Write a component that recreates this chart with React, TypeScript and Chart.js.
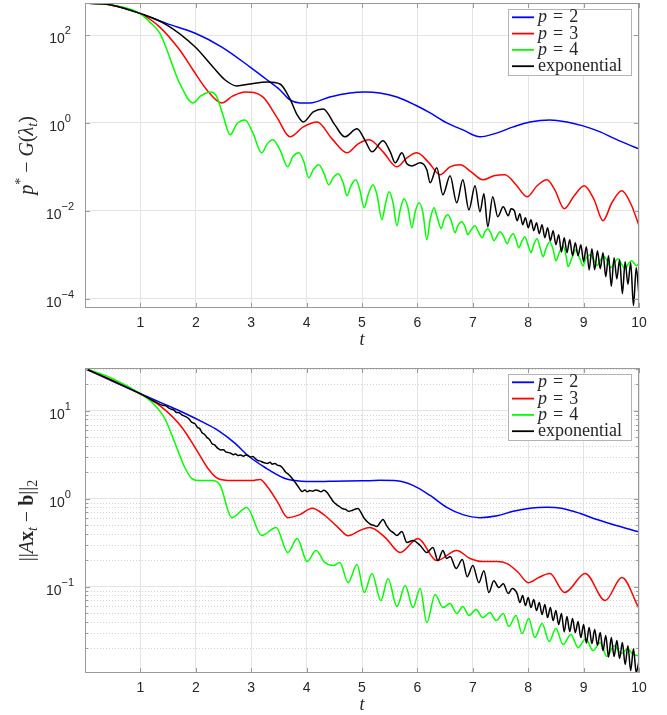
import React, { useEffect, useRef } from "react";
import { Chart, registerables } from "chart.js";

Chart.register(...registerables);

type Pt = [number, number];

// ---------------- shared ----------------
const SERIES_LABELS = ["p = 2", "p = 3", "p = 4", "exponential"];
const SERIES_COLORS = ["#0000ff", "#ff0000", "#00ff00", "#000000"];
const X_TICKS = [1, 2, 3, 4, 5, 6, 7, 8, 9, 10];

// ---------------- top panel: p* - G(lambda_t) ----------------
const TOP_Y_TICKS = [1e2, 1e0, 1e-2, 1e-4];
const TOP_Y_RANGE = [6.1e-5, 537];

const TOP_P2: Pt[] = [
  [0, 534], [0.49, 480], [0.99, 312], [1.48, 182], [1.99, 110], [2.47, 53.4], [2.98, 18.7],
  [3.29, 9.49], [3.52, 5.62], [3.7, 3.33], [3.88, 2.85], [4.06, 2.85], [4.42, 3.9], [4.78, 4.81],
  [5.05, 5.06], [5.32, 4.81], [5.63, 3.9], [5.96, 2.56], [6.23, 1.69], [6.53, 1.0], [6.82, 0.693],
  [7.13, 0.481], [7.44, 0.593], [7.73, 0.811], [8.03, 1.05], [8.39, 1.17], [8.7, 1.05],
  [8.99, 0.855], [9.3, 0.624], [9.53, 0.456], [9.78, 0.333], [10, 0.256],
];

const TOP_P3: Pt[] = [
  [0, 534], [0.49, 480], [0.99, 312], [1.35, 152], [1.71, 45.6], [1.95, 16.0], [2.2, 5.62],
  [2.47, 2.85], [2.67, 4.11], [2.89, 5.06], [3.21, 3.9], [3.47, 1.3], [3.7, 0.481], [3.94, 0.811],
  [4.19, 1.05], [4.46, 0.433], [4.73, 0.208], [4.93, 0.333], [5.13, 0.411], [5.38, 0.219],
  [5.63, 0.1], [5.81, 0.16], [5.99, 0.208], [6.21, 0.123], [6.41, 0.0658], [6.59, 0.1],
  [6.77, 0.111], [6.97, 0.077], [7.18, 0.0506], [7.38, 0.0624], [7.58, 0.0658], [7.78, 0.039],
  [7.98, 0.0208], [8.16, 0.037], [8.34, 0.0506], [8.48, 0.03], [8.65, 0.0111], [8.83, 0.0219],
  [9.01, 0.037], [9.19, 0.0178], [9.35, 0.00593], [9.51, 0.0152], [9.69, 0.0285], [9.86, 0.0137],
  [10, 0.00456],
];

const TOP_P4: Pt[] = [
  [0, 534], [0.49, 480], [0.99, 312], [1.17, 197], [1.35, 111], [1.48, 45.6], [1.59, 18.7],
  [1.68, 9.49], [1.77, 5.62], [1.86, 3.51], [1.95, 2.85], [2.09, 4.11], [2.26, 5.06], [2.37, 4.11],
  [2.49, 1.52], [2.62, 0.534], [2.74, 0.949], [2.89, 1.17], [3.03, 0.593], [3.19, 0.208],
  [3.29, 0.333], [3.39, 0.411], [3.52, 0.243], [3.66, 0.1], [3.75, 0.169], [3.86, 0.208],
  [3.95, 0.13], [4.04, 0.0562], [4.12, 0.0855], [4.22, 0.111], [4.31, 0.0731], [4.4, 0.039],
  [4.48, 0.0562], [4.57, 0.0693], [4.66, 0.0433], [4.73, 0.0219], [4.8, 0.037], [4.89, 0.0506],
  [4.96, 0.03], [5.04, 0.0117], [5.11, 0.0231], [5.2, 0.039], [5.27, 0.0231], [5.36, 0.00624],
  [5.42, 0.0137], [5.49, 0.027], [5.56, 0.0152], [5.63, 0.00456], [5.69, 0.0105], [5.76, 0.0187],
  [5.83, 0.0117], [5.9, 0.00411], [5.96, 0.00949], [6.03, 0.0152], [6.1, 0.00901], [6.17, 0.00219],
  [6.23, 0.00624], [6.3, 0.0117], [6.35, 0.0077], [6.43, 0.0039], [6.48, 0.00624], [6.55, 0.00811],
  [6.61, 0.00593], [6.68, 0.00316], [6.73, 0.00456], [6.8, 0.00562], [6.86, 0.00433], [6.91, 0.00285],
  [6.97, 0.0037], [7.04, 0.00456], [7.09, 0.00351], [7.17, 0.00243], [7.22, 0.00333], [7.27, 0.0039],
  [7.33, 0.003], [7.38, 0.00208], [7.44, 0.0027], [7.49, 0.00333], [7.55, 0.0027], [7.62, 0.00178],
  [7.67, 0.00243], [7.73, 0.003], [7.78, 0.00219], [7.83, 0.00144], [7.89, 0.00208], [7.94, 0.00256],
  [7.99, 0.00178], [8.05, 0.00111], [8.1, 0.00169], [8.16, 0.00231], [8.21, 0.00152], [8.27, 0.000901],
  [8.32, 0.00137], [8.39, 0.00197], [8.45, 0.0013], [8.5, 0.000731], [8.56, 0.00111], [8.63, 0.0016],
  [8.68, 0.001], [8.72, 0.000534], [8.79, 0.000855], [8.86, 0.0013], [8.92, 0.000901], [8.99, 0.000562],
  [9.04, 0.000811], [9.12, 0.001], [9.19, 0.000731], [9.24, 0.000562], [9.31, 0.00077], [9.37, 0.000901],
  [9.44, 0.000658], [9.49, 0.000506], [9.57, 0.000693], [9.62, 0.000811], [9.69, 0.000593],
  [9.75, 0.000481], [9.82, 0.000658], [9.87, 0.000731], [9.95, 0.000562], [10, 0.000624],
];

const TOP_EXP: Pt[] = [
  [0, 534], [0.49, 480], [0.99, 312], [1.48, 169], [1.99, 53.4], [2.31, 18.7], [2.53, 9.49],
  [2.74, 6.93], [2.98, 7.7], [3.29, 8.55], [3.52, 7.7], [3.7, 3.51], [3.83, 1.52], [3.94, 1.05],
  [4.12, 1.78], [4.3, 2.08], [4.51, 0.901], [4.69, 0.481], [4.91, 0.731], [5.05, 0.411],
  [5.18, 0.219], [5.38, 0.39], [5.51, 0.219], [5.6, 0.123], [5.72, 0.208], [5.81, 0.117],
  [5.9, 0.105], [6.05, 0.123], [6.17, 0.0855], [6.23, 0.0433], [6.35, 0.0949], [6.46, 0.0231],
  [6.59, 0.0624], [6.71, 0.0152], [6.82, 0.0506], [6.93, 0.0105], [7.04, 0.037], [7.13, 0.00949],
  [7.2, 0.0243], [7.27, 0.00433], [7.36, 0.0208], [7.45, 0.00731], [7.55, 0.0123], [7.64, 0.0077],
  [7.69, 0.0111], [7.75, 0.01], [7.8, 0.00593], [7.85, 0.00855], [7.9, 0.00481], [7.95, 0.00693],
  [8.0, 0.00411], [8.05, 0.00624], [8.1, 0.00351], [8.15, 0.00534], [8.2, 0.003], [8.25, 0.00481],
  [8.3, 0.00243], [8.35, 0.00411], [8.4, 0.00208], [8.45, 0.00351], [8.5, 0.00169], [8.55, 0.00285],
  [8.6, 0.00115], [8.65, 0.00243], [8.7, 0.00111], [8.75, 0.00219], [8.8, 0.000949], [8.85, 0.00187],
  [8.9, 0.00095], [8.95, 0.00169], [9.0, 0.000693], [9.05, 0.00152], [9.1, 0.00045], [9.15, 0.00137],
  [9.2, 0.000456], [9.25, 0.00123], [9.3, 0.00048], [9.35, 0.00111], [9.4, 0.000316], [9.45, 0.000949],
  [9.5, 0.00019], [9.55, 0.000855], [9.6, 0.00028], [9.65, 0.00077], [9.7, 0.00013], [9.75, 0.000693],
  [9.8, 0.00021], [9.85, 0.000658], [9.9, 0.0000693], [9.95, 0.000506], [10, 0.000117],
];

// ---------------- bottom panel: ||A x_t - b||_2 ----------------
const BOT_Y_TICKS = [1e1, 1e0, 1e-1];
const BOT_Y_MINOR = [
  0.02, 0.03, 0.04, 0.05, 0.06, 0.07, 0.08, 0.09,
  0.2, 0.3, 0.4, 0.5, 0.6, 0.7, 0.8, 0.9,
  2, 3, 4, 5, 6, 7, 8, 9, 20, 30,
];
const BOT_Y_RANGE = [0.0104, 30.8];

const BOT_P2: Pt[] = [
  [0, 30.3], [0.5, 21.7], [0.99, 15.8], [1.4, 12.2], [1.81, 9.36], [2.1, 7.6], [2.4, 6.0],
  [2.71, 4.27], [2.94, 3.11], [3.25, 2.27], [3.61, 1.7], [3.79, 1.61], [4.0, 1.57], [4.42, 1.58],
  [5.0, 1.6], [5.32, 1.62], [5.63, 1.6], [5.92, 1.42], [6.23, 1.09], [6.53, 0.8], [6.82, 0.66],
  [7.13, 0.61], [7.44, 0.64], [7.73, 0.72], [8.03, 0.78], [8.34, 0.8], [8.6, 0.78], [8.94, 0.68],
  [9.24, 0.58], [9.53, 0.51], [10, 0.42],
];

const BOT_P3: Pt[] = [
  [0, 30.3], [0.49, 22.2], [0.99, 15.8], [1.39, 10.96], [1.75, 6.49], [2.04, 3.37], [2.22, 2.21],
  [2.4, 1.7], [2.65, 1.61], [3.01, 1.61], [3.16, 1.66], [3.3, 1.35], [3.48, 0.91], [3.66, 0.61],
  [3.88, 0.66], [4.1, 0.78], [4.33, 0.645], [4.57, 0.47], [4.75, 0.38], [4.96, 0.435], [5.14, 0.47],
  [5.42, 0.362], [5.69, 0.244], [6.01, 0.353], [6.35, 0.198], [6.71, 0.258], [6.95, 0.209],
  [7.18, 0.193], [7.44, 0.193], [7.62, 0.183], [7.82, 0.145], [8.0, 0.111], [8.2, 0.128],
  [8.39, 0.141], [8.66, 0.0857], [9.03, 0.141], [9.39, 0.0695], [9.69, 0.127], [10, 0.0563],
];

const BOT_P4: Pt[] = [
  [0, 30.5], [0.49, 23.4], [0.99, 15.8], [1.21, 12.5], [1.44, 8.2], [1.62, 4.38], [1.81, 2.21],
  [1.93, 1.7], [2.08, 1.61], [2.29, 1.61], [2.44, 1.42], [2.65, 0.61], [2.92, 0.796], [3.19, 0.382],
  [3.45, 0.471], [3.66, 0.244], [3.83, 0.353], [4.01, 0.193], [4.17, 0.258], [4.33, 0.188],
  [4.48, 0.174], [4.6, 0.188], [4.75, 0.111], [4.91, 0.179], [5.04, 0.0857], [5.18, 0.141],
  [5.34, 0.0695], [5.47, 0.124], [5.63, 0.0593], [5.78, 0.103], [5.92, 0.0578], [6.05, 0.0951],
  [6.17, 0.039], [6.32, 0.0813], [6.46, 0.0578], [6.59, 0.0642], [6.71, 0.0494], [6.82, 0.0593],
  [6.93, 0.0469], [7.06, 0.0548], [7.18, 0.0445], [7.31, 0.0507], [7.42, 0.0411], [7.55, 0.0494],
  [7.65, 0.0351], [7.78, 0.0469], [7.89, 0.0292], [8.01, 0.0433], [8.12, 0.0263], [8.25, 0.038],
  [8.38, 0.0237], [8.5, 0.0333], [8.63, 0.0219], [8.77, 0.0285], [8.9, 0.0202], [9.04, 0.0256],
  [9.17, 0.0187], [9.3, 0.0231], [9.42, 0.016], [9.55, 0.0213], [9.68, 0.0173], [9.8, 0.0197],
  [9.89, 0.0169], [10, 0.0164],
];

const BOT_EXP: Pt[] = [
  [0, 30.5], [0.49, 22.2], [0.99, 15.8], [1.32, 12.2], [1.4, 11.6], [1.45, 11.5], [1.53, 10.6],
  [1.6, 10.3], [1.65, 9.6], [1.7, 9.55], [1.75, 9.0], [1.82, 8.6], [1.87, 8.2], [1.93, 7.4],
  [1.98, 7.2], [2.03, 6.5], [2.07, 6.3], [2.11, 5.69], [2.16, 5.4], [2.2, 5.0], [2.25, 4.7],
  [2.29, 4.27], [2.34, 4.1], [2.4, 3.74], [2.45, 3.6], [2.5, 3.62], [2.54, 3.42], [2.58, 3.37],
  [2.63, 3.3], [2.68, 3.18], [2.72, 3.24], [2.76, 3.11], [2.81, 3.16], [2.86, 3.05], [2.9, 3.14],
  [2.94, 3.11], [2.99, 2.98], [3.03, 3.02], [3.08, 2.85], [3.12, 2.73], [3.17, 2.68], [3.21, 2.6],
  [3.25, 2.56], [3.29, 2.52], [3.34, 2.6], [3.38, 2.48], [3.43, 2.52], [3.48, 2.4], [3.52, 2.38],
  [3.56, 2.27], [3.62, 2.02], [3.68, 1.88], [3.74, 1.7], [3.8, 1.52], [3.86, 1.34], [3.92, 1.21],
  [3.97, 1.26], [4.01, 1.2], [4.06, 1.24], [4.11, 1.22], [4.16, 1.26], [4.21, 1.24], [4.26, 1.2],
  [4.31, 1.25], [4.37, 1.18], [4.43, 1.04], [4.48, 0.93], [4.54, 0.86], [4.59, 0.82], [4.64, 0.775],
  [4.7, 0.76], [4.76, 0.72], [4.82, 0.736], [4.87, 0.76], [4.93, 0.775], [4.98, 0.7], [5.04, 0.6],
  [5.11, 0.537], [5.16, 0.51], [5.21, 0.5], [5.27, 0.483], [5.33, 0.54], [5.38, 0.58], [5.44, 0.5],
  [5.51, 0.435], [5.57, 0.41], [5.63, 0.382], [5.72, 0.425], [5.81, 0.318], [5.92, 0.335],
  [6.05, 0.294], [6.17, 0.244], [6.28, 0.279], [6.37, 0.198], [6.46, 0.258], [6.53, 0.209],
  [6.59, 0.22], [6.7, 0.161], [6.81, 0.204], [6.9, 0.13], [7.0, 0.174], [7.11, 0.111], [7.2, 0.152],
  [7.29, 0.0857], [7.38, 0.117], [7.47, 0.0977], [7.55, 0.108], [7.64, 0.0834], [7.71, 0.095],
  [7.8, 0.0834], [7.85, 0.0659], [7.9, 0.0792], [7.95, 0.0609], [8.0, 0.0751], [8.05, 0.0578],
  [8.1, 0.0713], [8.15, 0.0534], [8.2, 0.0659], [8.25, 0.0481], [8.3, 0.0626], [8.35, 0.0444],
  [8.4, 0.0578], [8.45, 0.0411], [8.5, 0.0534], [8.55, 0.037], [8.6, 0.0494], [8.65, 0.0305],
  [8.7, 0.0456], [8.75, 0.0308], [8.8, 0.0433], [8.85, 0.03], [8.9, 0.04], [8.95, 0.0263],
  [9.0, 0.037], [9.05, 0.0228], [9.1, 0.0342], [9.15, 0.0225], [9.2, 0.0325], [9.25, 0.0215],
  [9.3, 0.03], [9.35, 0.0187], [9.4, 0.0277], [9.45, 0.0158], [9.5, 0.0263], [9.55, 0.016],
  [9.6, 0.0243], [9.65, 0.0152], [9.7, 0.0231], [9.75, 0.013], [9.8, 0.0213], [9.85, 0.0111],
  [9.9, 0.0197], [9.95, 0.0105], [10, 0.0144],
];

// ---------------- styling ----------------
const SANS = '"Liberation Sans", Arial, Helvetica, sans-serif';
const SERIF = '"Liberation Serif", "Times New Roman", "DejaVu Serif", serif';
const TEXT = "#262626";
const AXIS = "#9a9a9a";
const GRID = "#e4e4e4";
const MINOR_GRID = "#d2d2d2";

type Seg = { text: string; font: string; dy?: number };

const TOP_Y_TITLE: Seg[] = [
  { text: "p", font: `italic 20px ${SERIF}` },
  { text: "*", font: `14px ${SERIF}`, dy: -8 },
  { text: " \u2212 ", font: `20px ${SERIF}` },
  { text: "G", font: `italic 20px ${SERIF}` },
  { text: "(", font: `20px ${SERIF}` },
  { text: "\u03bb", font: `italic 20px ${SERIF}` },
  { text: "t", font: `italic 14px ${SERIF}`, dy: 4 },
  { text: ")", font: `20px ${SERIF}` },
];

const BOT_Y_TITLE: Seg[] = [
  { text: "||", font: `20px ${SERIF}` },
  { text: "A", font: `italic 20px ${SERIF}` },
  { text: "x", font: `bold 20px ${SERIF}` },
  { text: "t", font: `italic 14px ${SERIF}`, dy: 4 },
  { text: " \u2212 ", font: `20px ${SERIF}` },
  { text: "b", font: `bold 20px ${SERIF}` },
  { text: "||", font: `20px ${SERIF}` },
  { text: "2", font: `14px ${SERIF}`, dy: 4 },
];

type PanelCfg = {
  height: number;
  padTop: number;
  xAxisH: number;
  yRange: number[];
  yTicks: number[];
  yMinor: number[];
  yTitle: Seg[];
  series: Pt[][];
};

const TOP_PANEL: PanelCfg = {
  height: 357,
  padTop: 3,
  xAxisH: 49,
  yRange: TOP_Y_RANGE,
  yTicks: TOP_Y_TICKS,
  yMinor: [],
  yTitle: TOP_Y_TITLE,
  series: [TOP_P2, TOP_P3, TOP_P4, TOP_EXP],
};

const BOT_PANEL: PanelCfg = {
  height: 358,
  padTop: 11,
  xAxisH: 42,
  yRange: BOT_Y_RANGE,
  yTicks: BOT_Y_TICKS,
  yMinor: BOT_Y_MINOR,
  yTitle: BOT_Y_TITLE,
  series: [BOT_P2, BOT_P3, BOT_P4, BOT_EXP],
};

function segsWidth(ctx: CanvasRenderingContext2D, segs: Seg[]) {
  let w = 0;
  for (const s of segs) {
    ctx.font = s.font;
    w += ctx.measureText(s.text).width;
  }
  return w;
}

function drawSegs(ctx: CanvasRenderingContext2D, segs: Seg[], x: number, y: number, align: "left" | "center") {
  ctx.textAlign = "left";
  ctx.textBaseline = "alphabetic";
  const w = segsWidth(ctx, segs);
  let cx = align === "center" ? x - w / 2 : x;
  for (const s of segs) {
    ctx.font = s.font;
    ctx.fillText(s.text, cx, y + (s.dy || 0));
    cx += ctx.measureText(s.text).width;
  }
}

function legendSegs(label: string): Seg[] {
  if (label.startsWith("p = ")) {
    return [
      { text: "p", font: `italic 18px ${SERIF}` },
      { text: "\u2004=\u2004" + label.slice(4), font: `18px ${SERIF}` },
    ];
  }
  return [{ text: label, font: `18px ${SERIF}` }];
}

function makePlugin(p: PanelCfg) {
  return {
    id: "matlabAxes",
    beforeDatasetsDraw(chart: any) {
      const { ctx, chartArea: a } = chart;
      const ys = chart.scales.y;
      if (!p.yMinor.length) return;
      ctx.save();
      ctx.strokeStyle = MINOR_GRID;
      ctx.lineWidth = 1;
      ctx.setLineDash([1, 2]);
      ctx.beginPath();
      for (const v of p.yMinor) {
        if (v < p.yRange[0] || v > p.yRange[1]) continue;
        const py = Math.round(ys.getPixelForValue(v)) + 0.5;
        ctx.moveTo(a.left, py);
        ctx.lineTo(a.right, py);
      }
      ctx.stroke();
      ctx.restore();
    },
    afterDraw(chart: any) {
      const { ctx, chartArea: a } = chart;
      const xs = chart.scales.x;
      const ys = chart.scales.y;
      ctx.save();
      ctx.setLineDash([]);
      // axes box
      ctx.strokeStyle = AXIS;
      ctx.lineWidth = 1;
      ctx.strokeRect(Math.round(a.left) + 0.5, Math.round(a.top) + 0.5, Math.round(a.right - a.left) - 1, Math.round(a.bottom - a.top) - 1);
      // inward ticks
      ctx.beginPath();
      for (const t of X_TICKS) {
        const px = Math.round(xs.getPixelForValue(t)) + 0.5;
        ctx.moveTo(px, a.bottom);
        ctx.lineTo(px, a.bottom - 5);
        ctx.moveTo(px, a.top);
        ctx.lineTo(px, a.top + 5);
      }
      for (const v of p.yTicks) {
        const py = Math.round(ys.getPixelForValue(v)) + 0.5;
        ctx.moveTo(a.left, py);
        ctx.lineTo(a.left + 5, py);
        ctx.moveTo(a.right, py);
        ctx.lineTo(a.right - 5, py);
      }
      for (const v of p.yMinor) {
        if (v < p.yRange[0] || v > p.yRange[1]) continue;
        const py = Math.round(ys.getPixelForValue(v)) + 0.5;
        ctx.moveTo(a.left, py);
        ctx.lineTo(a.left + 3, py);
        ctx.moveTo(a.right, py);
        ctx.lineTo(a.right - 3, py);
      }
      ctx.stroke();

      ctx.fillStyle = TEXT;
      // x tick labels
      ctx.font = `14px ${SANS}`;
      ctx.textAlign = "center";
      ctx.textBaseline = "alphabetic";
      for (const t of X_TICKS) {
        ctx.fillText(String(t), xs.getPixelForValue(t), a.bottom + 19);
      }
      // y tick labels 10^k
      for (const v of p.yTicks) {
        const py = ys.getPixelForValue(v);
        const e = Math.round(Math.log10(v));
        const expText = e < 0 ? "\u2212" + String(-e) : String(e);
        drawSegs(ctx, [
          { text: "10", font: `14px ${SANS}` },
          { text: expText, font: `11px ${SANS}`, dy: -9 },
        ], 60, py + 8, "center");
      }
      // x title
      drawSegs(ctx, [{ text: "t", font: `italic 18px ${SERIF}` }], (a.left + a.right) / 2, a.bottom + 37, "center");
      // y title (rotated)
      ctx.save();
      ctx.translate(33, (a.top + a.bottom) / 2);
      ctx.rotate(-Math.PI / 2);
      drawSegs(ctx, p.yTitle, 0, 0, "center");
      ctx.restore();

      // legend
      const bx1 = Math.round(a.right) - 7;
      const bx0 = bx1 - 124;
      const by0 = Math.round(a.top) + 6;
      const bh = 67;
      ctx.fillStyle = "#ffffff";
      ctx.fillRect(bx0, by0, bx1 - bx0, bh);
      ctx.strokeStyle = "#b4b4b4";
      ctx.lineWidth = 1;
      ctx.strokeRect(bx0 + 0.5, by0 + 0.5, bx1 - bx0 - 1, bh - 1);
      chart.data.datasets.forEach((ds: any, i: number) => {
        const cy = by0 + 8.3 + i * 16.3;
        ctx.strokeStyle = ds.borderColor;
        ctx.lineWidth = 1.8;
        ctx.beginPath();
        ctx.moveTo(bx0 + 4, cy);
        ctx.lineTo(bx0 + 26, cy);
        ctx.stroke();
        ctx.fillStyle = TEXT;
        drawSegs(ctx, legendSegs(ds.label), bx0 + 30, cy + 5, "left");
      });
      ctx.restore();
    },
  };
}

function buildConfig(p: PanelCfg): any {
  const datasets = p.series.map((s, i) => ({
    label: SERIES_LABELS[i],
    data: s.map(([x, y]) => ({ x, y })),
    borderColor: SERIES_COLORS[i],
    backgroundColor: SERIES_COLORS[i],
    borderWidth: 1.5,
    pointRadius: 0,
    pointHoverRadius: 0,
    fill: false,
    cubicInterpolationMode: "monotone",
    order: 4 - i,
  }));
  return {
    type: "line",
    data: { datasets },
    options: {
      responsive: false,
      animation: false,
      devicePixelRatio: 1,
      events: [],
      layout: { padding: { left: 0, right: 28, top: p.padTop, bottom: 0 } },
      plugins: {
        legend: { display: false },
        tooltip: { enabled: false },
        title: { display: false },
      },
      scales: {
        x: {
          type: "linear",
          min: 0,
          max: 10,
          ticks: { display: false, stepSize: 1 },
          grid: { color: GRID, lineWidth: 1, drawTicks: false },
          border: { display: false },
          afterFit: (s: any) => {
            s.height = p.xAxisH;
          },
        },
        y: {
          type: "logarithmic",
          min: p.yRange[0],
          max: p.yRange[1],
          ticks: { display: false },
          grid: { color: GRID, lineWidth: 1, drawTicks: false },
          border: { display: false },
          afterBuildTicks: (s: any) => {
            s.ticks = p.yTicks.map((v) => ({ value: v }));
          },
          afterFit: (s: any) => {
            s.width = 85;
          },
        },
      },
    },
    plugins: [makePlugin(p)],
  };
}

function Panel({ cfg }: { cfg: PanelCfg }) {
  const ref = useRef<HTMLCanvasElement>(null);
  useEffect(() => {
    if (!ref.current) return;
    const chart = new Chart(ref.current, buildConfig(cfg));
    return () => chart.destroy();
  }, [cfg]);
  return (
    <canvas
      ref={ref}
      width={667}
      height={cfg.height}
      style={{ display: "block", width: 667, height: cfg.height }}
    />
  );
}

export default function App() {
  return (
    <div style={{ position: "absolute", left: 0, top: 0, width: 667, height: 715, background: "#ffffff" }}>
      <Panel cfg={TOP_PANEL} />
      <Panel cfg={BOT_PANEL} />
    </div>
  );
}
